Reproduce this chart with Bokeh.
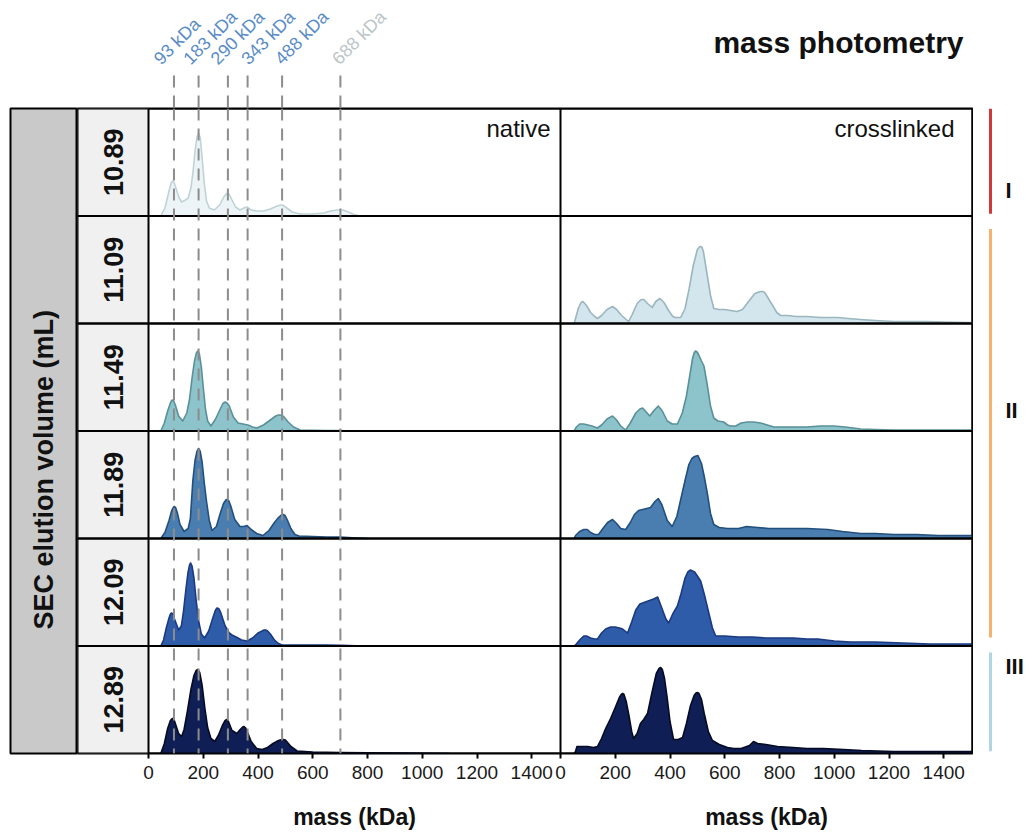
import math
from bokeh.plotting import figure
from bokeh.models import (Range1d, FactorRange, Span, FixedTicker,
                          CustomJSTickFormatter, Spacer, ColumnDataSource)
from bokeh.layouts import row, column
from bokeh.core.properties import value
from bokeh.embed import file_html
from bokeh.resources import INLINE

FONT = "Liberation Sans"

# ---------------- data ----------------
rows = ["10.89", "11.09", "11.49", "11.89", "12.09", "12.89"]
x_ticks = [0, 200, 400, 600, 800, 1000, 1200, 1400]
marker_label = [93, 183, 290, 343, 488, 688]          # kDa written on the labels
marker_line_mass = [93, 183, 290, 362, 488, 701]      # where the dashed guides sit
marker_color = ["#5a8cc6", "#5a8cc6", "#5a8cc6", "#5a8cc6", "#5a8cc6", "#bcc5c8"]

group_names = ["I", "II", "III"]
group_first_row = ["10.89", "11.09", "12.89"]
group_last_row = ["10.89", "12.09", "12.89"]
group_colors = ["#d2383a", "#f3b36c", "#b3d4e2"]

fill_colors = ["#edf4f7", "#d3e5ed", "#8dc3cb", "#4a7eb0", "#2e5ca9", "#0f1f55"]
line_colors = ["#bfd3d6", "#9cb6c0", "#5a9199", "#234f7d", "#1b3a80", "#060b24"]

# native (counts, a.u.)
native_1089_mass = [45, 60, 75, 83, 88, 94, 100, 112, 121, 135, 145, 155, 163, 170, 177, 183, 189, 196, 204, 212, 222, 240, 260, 275, 284, 290, 296, 305, 318, 334, 348, 360, 375, 396, 420, 445, 470, 482, 488, 495, 505, 525, 554, 600, 640, 665, 690, 710, 730, 750, 770]
native_1089_count = [0, 8, 25, 33, 35, 33, 28, 18, 14, 16, 18, 28, 45, 65, 79, 83, 78, 58, 32, 15, 8, 6, 11, 19, 22, 23, 21, 16, 9, 6, 8, 9, 6, 5, 5, 7, 10, 11, 11, 10, 8, 4, 2, 2, 3, 5, 6, 6, 4, 1.5, 0]

native_1149_mass = [45, 58, 70, 80, 85, 88, 92, 98, 110, 125, 140, 150, 160, 168, 175, 180, 186, 193, 200, 208, 216, 228, 245, 262, 272, 280, 287, 295, 310, 327, 345, 363, 380, 396, 420, 445, 465, 475, 481, 488, 495, 510, 530, 554, 600, 650, 700, 740]
native_1149_count = [0, 8, 20, 28, 30.5, 31, 30, 26, 15, 10, 18, 32, 55, 70, 78, 80, 77, 64, 44, 22, 10, 5, 12, 22, 27.5, 29, 28, 25, 14, 8, 7, 6, 4, 3, 6, 11, 15, 16, 16, 15.5, 14, 9, 4, 1, 0.8, 0.5, 0.4, 0]

native_1189_mass = [45, 60, 75, 85, 92, 95, 99, 105, 115, 130, 145, 153, 162, 170, 177, 183, 189, 196, 204, 212, 222, 232, 248, 262, 274, 284, 292, 300, 315, 334, 348, 360, 375, 395, 418, 440, 460, 475, 485, 492, 499, 508, 520, 535, 550, 600, 650, 700, 760, 800]
native_1189_count = [0, 6, 18, 28, 31.5, 32, 31, 26, 14, 7, 10, 20, 58, 78, 87, 90, 87, 76, 55, 37, 18, 8, 12, 25, 35, 39, 38.5, 33, 19, 12, 12, 13, 9, 5, 3, 8, 16, 21, 23.5, 24, 23, 18, 10, 4, 2.5, 2, 1.5, 1.5, 0.5, 0]

native_1209_mass = [45, 55, 65, 75, 80, 84, 89, 95, 110, 120, 128, 136, 144, 150, 154, 159, 166, 174, 183, 193, 205, 220, 235, 244, 250, 256, 263, 280, 295, 305, 320, 340, 360, 380, 400, 415, 422, 428, 435, 445, 460, 475, 488, 550, 650, 700, 760, 800]
native_1209_count = [0, 6, 18, 28, 32, 33, 32, 27, 16, 20, 35, 55, 73, 81, 83, 80, 68, 46, 25, 12, 8, 15, 28, 35.5, 38, 37.5, 34, 20, 13, 11, 9, 6, 5, 8, 13, 15, 16, 16, 15, 12, 6, 2.5, 1, 1, 1, 0.8, 0.3, 0]

native_1289_mass = [45, 58, 70, 80, 85, 88, 93, 98, 110, 121, 130, 142, 155, 166, 174, 180, 187, 196, 206, 216, 228, 242, 255, 270, 280, 286, 292, 305, 323, 335, 344, 349, 355, 362, 375, 395, 415, 435, 455, 475, 487, 493, 500, 508, 520, 543, 600, 700, 800, 900, 1000, 1100]
native_1289_count = [0, 10, 25, 33, 34.5, 35, 34, 30, 20, 17, 24, 42, 64, 78, 83, 84, 81, 68, 45, 26, 15, 12, 18, 28, 33, 34, 32, 23, 20, 24, 26.5, 27, 25.5, 21, 12, 5, 4, 6, 10, 13, 14, 14, 13.5, 11, 7, 2.5, 1.5, 1, 0.6, 0.4, 0.3, 0]

# crosslinked (counts, a.u.)
xl_1109_mass = [50, 55, 65, 75, 82, 95, 110, 125, 135, 150, 170, 190, 205, 220, 240, 249, 262, 280, 295, 304, 318, 335, 348, 363, 378, 395, 410, 420, 439, 455, 470, 485, 500, 507, 512, 517, 522, 535, 548, 560, 580, 600, 621, 645, 665, 687, 710, 730, 738, 746, 755, 775, 790, 804, 830, 860, 900, 950, 1013, 1050, 1097, 1150, 1218, 1280, 1342, 1400, 1488, 1505]
xl_1109_count = [0, 5, 15, 21, 22, 18, 11, 7, 5, 8, 14, 17, 14, 9, 4, 2, 9, 20, 24, 24, 20, 16, 22, 25, 21, 13, 7, 6, 6, 15, 35, 58, 74, 76.5, 77, 76, 72, 50, 28, 15, 14, 14, 13, 12, 14, 22, 30, 32, 32, 31, 27, 18, 11, 8, 8, 7, 7, 6, 6, 5, 4, 3, 2, 2, 2, 1.5, 1, 1]

xl_1149_mass = [50, 58, 70, 85, 100, 115, 135, 150, 170, 190, 205, 220, 238, 255, 275, 290, 300, 313, 326, 340, 357, 372, 390, 408, 427, 445, 460, 472, 482, 488, 493, 499, 505, 515, 524, 535, 548, 560, 575, 596, 610, 621, 640, 660, 683, 705, 731, 755, 780, 810, 852, 900, 950, 998, 1040, 1097, 1150, 1218, 1300, 1400, 1488, 1505]
xl_1149_count = [0, 4, 7, 7, 6, 5, 3, 6, 12, 15, 11, 5, 1, 8, 18, 22, 23, 19, 15, 20, 25, 20, 10, 7, 7, 18, 35, 55, 72, 78, 80, 79, 76, 70, 65, 48, 25, 13, 10, 9, 6, 5, 5, 8, 9, 9, 8, 6, 4, 4, 4, 4, 5, 5, 4, 2, 1.5, 1, 1, 1, 1, 1]

xl_1189_mass = [50, 55, 70, 85, 98, 110, 125, 139, 155, 172, 190, 205, 220, 238, 255, 270, 285, 300, 315, 329, 345, 357, 370, 390, 408, 425, 440, 455, 469, 480, 490, 502, 515, 525, 537, 548, 560, 580, 610, 650, 680, 720, 760, 800, 850, 900, 976, 1030, 1097, 1150, 1218, 1300, 1380, 1462, 1505]
xl_1189_count = [0, 3, 7, 9, 9, 6, 4, 4, 10, 16, 19, 15, 10, 9, 16, 24, 28, 29, 30, 31, 37, 40, 34, 18, 12, 22, 40, 58, 74, 80, 82, 83, 75, 62, 44, 25, 14, 11, 10, 10, 12, 11, 10, 10, 10, 10, 9, 7, 5, 5, 4, 4, 3, 3, 3]

xl_1209_mass = [50, 55, 70, 85, 95, 110, 125, 135, 150, 165, 183, 200, 215, 227, 245, 260, 275, 290, 300, 320, 340, 355, 370, 385, 395, 410, 427, 440, 455, 465, 475, 490, 500, 512, 525, 540, 555, 567, 600, 650, 700, 750, 800, 850, 900, 940, 1000, 1060, 1150, 1250, 1350, 1462, 1505]
xl_1209_count = [0, 1, 6, 10, 10, 8, 7, 7, 13, 17, 19, 19, 18, 17, 13, 24, 36, 42, 43, 45, 47, 49, 38, 27, 23, 32, 40, 52, 68, 74, 76, 74, 70, 65, 52, 35, 18, 10, 10, 9, 9, 8, 8, 8, 7, 7, 5, 4, 4, 3, 2, 2, 2]

xl_1289_mass = [50, 55, 60, 80, 100, 120, 135, 150, 165, 183, 200, 215, 222, 227, 232, 240, 250, 260, 267, 280, 292, 304, 318, 335, 350, 360, 366, 372, 380, 390, 400, 413, 430, 446, 460, 475, 488, 495, 500, 506, 515, 525, 540, 555, 580, 610, 633, 660, 690, 705, 720, 750, 793, 850, 900, 960, 1035, 1100, 1218, 1300, 1400, 1462, 1505]
xl_1289_count = [0, 2, 7, 7, 7, 6, 7, 15, 25, 35, 46, 56, 59, 60, 59, 52, 38, 22, 15, 20, 30, 34, 40, 62, 80, 85, 86, 84, 75, 55, 32, 14, 14, 16, 30, 48, 58, 60.5, 61, 60, 54, 40, 22, 13, 9, 6, 5, 5, 8, 12, 10, 9, 7, 6, 5, 5, 4, 3, 2, 2, 2, 2, 2]

native_curves = {"10.89": (native_1089_mass, native_1089_count),
                 "11.49": (native_1149_mass, native_1149_count),
                 "11.89": (native_1189_mass, native_1189_count),
                 "12.09": (native_1209_mass, native_1209_count),
                 "12.89": (native_1289_mass, native_1289_count)}
xl_curves = {"11.09": (xl_1109_mass, xl_1109_count),
             "11.49": (xl_1149_mass, xl_1149_count),
             "11.89": (xl_1189_mass, xl_1189_count),
             "12.09": (xl_1209_mass, xl_1209_count),
             "12.89": (xl_1289_mass, xl_1289_count)}

# ---------------- layout constants ----------------
XMAX = 1505            # kDa, x-axis upper limit of each panel
ROW_SCALE = 107.5      # counts per facet row height
STRIP_W, PANEL_W = 71, 412
MAIN_W = STRIP_W + 2 * PANEL_W
OUTER_L, OUTER_FRAME = 10, 67
OUTER_W = OUTER_L + OUTER_FRAME
MARK_W = 1030 - OUTER_W - (MAIN_W + 1)
HEAD_H, FOOT_H = 107, 41
FRAME_H, AXIS_H = 645, 40
LABEL_NUDGE = [-10, -5, -7, 4, 3, 2]   # px nudges of the rotated mass labels
strip_kda = XMAX * STRIP_W / PANEL_W

yr = FactorRange(factors=rows[::-1])
xr = Range1d(-strip_kda, 2 * XMAX)
xl_range = Range1d(-XMAX - strip_kda, XMAX)
strip_range = Range1d(0, MAIN_W / STRIP_W)


def bare(p):
    p.grid.visible = False
    p.background_fill_color = "white"
    p.border_fill_color = "white"


# ---------------- main panel figure ----------------
main = figure(width=MAIN_W + 1, height=1 + FRAME_H + AXIS_H, x_range=xr, y_range=yr,
              output_backend="svg", toolbar_location=None,
              min_border_left=0, min_border_right=1, min_border_top=1,
              min_border_bottom=AXIS_H, y_axis_location=None, x_axis_location="below")
main.extra_x_ranges = {"xl": xl_range, "strip": strip_range}
bare(main)
main.outline_line_color = "black"
main.outline_line_width = 2

# label strip
main.hbar(y=rows, left=0, right=1, height=1, x_range_name="strip",
          fill_color="#f0f0f0", line_color=None)
main.text(x=[0.5] * len(rows), y=rows, text=rows, angle=math.pi / 2,
          x_range_name="strip", text_align="center", text_baseline="middle",
          text_font=value(FONT), text_font_style="bold", text_font_size="27px",
          text_color="#111111")


def add_curve(p, cat, mass, count, range_name):
    i = rows.index(cat)
    ys = [(cat, c / ROW_SCALE - 0.5) for c in count]
    base = (cat, -0.5)
    src = ColumnDataSource(dict(x=[mass[0]] + list(mass) + [mass[-1]],
                                y=[base] + ys + [base]))
    p.patch("x", "y", source=src, fill_color=fill_colors[i], line_color=None,
            x_range_name=range_name)
    p.line(x=list(mass), y=ys, line_color=line_colors[i], line_width=1.6,
           line_join="round", x_range_name=range_name)


for cat, (m, c) in native_curves.items():
    add_curve(main, cat, m, c, "default")
for cat, (m, c) in xl_curves.items():
    add_curve(main, cat, m, c, "xl")

# dashed reference masses (native only)
for m in marker_line_mass:
    main.add_layout(Span(location=m, dimension="height", line_color="#8c8c8c",
                         line_width=2, line_dash="12 8"))

# facet borders
main.hbar(y=rows, left=xr.start, right=xr.end, height=1, fill_color=None,
          line_color="black", line_width=2)
for loc in (0, XMAX):
    main.add_layout(Span(location=loc, dimension="height", line_color="black", line_width=2))

# panel titles
main.text(x=[XMAX], y=[(rows[0], 0.5)], text=["native"], x_offset=-10, y_offset=6,
          text_align="right", text_baseline="top", text_font=value(FONT),
          text_font_size="24px", text_color="#111111")
main.text(x=[XMAX], y=[(rows[0], 0.5)], text=["crosslinked"], x_range_name="xl",
          x_offset=-18, y_offset=6, text_align="right", text_baseline="top",
          text_font=value(FONT), text_font_size="24px", text_color="#111111")

# x axis (two facets share one axis line)
ax = main.xaxis[0]
ax.ticker = FixedTicker(ticks=x_ticks + [XMAX + t for t in x_ticks])
ax.formatter = CustomJSTickFormatter(args=dict(off=XMAX),
                                     code="return String(tick >= off ? Math.round(tick - off) : Math.round(tick));")
ax.axis_line_color = None
ax.major_tick_out = 5
ax.major_tick_in = 0
ax.major_tick_line_width = 2
ax.major_tick_line_color = "black"
ax.minor_tick_line_color = None
ax.major_label_text_font = FONT
ax.major_label_text_font_size = "19px"
ax.major_label_text_color = "#1a1a1a"
ax.major_label_standoff = 7

# ---------------- outer strip ----------------
outer = figure(width=OUTER_W, height=1 + FRAME_H + AXIS_H, x_range=Range1d(0, 1),
               y_range=Range1d(0, 1), output_backend="svg", toolbar_location=None,
               min_border_left=OUTER_L, min_border_right=0, min_border_top=1,
               min_border_bottom=AXIS_H, x_axis_location=None, y_axis_location=None)
bare(outer)
outer.background_fill_color = "#c9c9c9"
outer.outline_line_color = "black"
outer.outline_line_width = 2
outer.text(x=[0.5], y=[0.44], text=["SEC elution volume (mL)"], angle=math.pi / 2,
           text_align="center", text_baseline="middle", text_font=value(FONT),
           text_font_style="bold", text_font_size="27px", text_color="#111111")

# ---------------- group markers ----------------
marks = figure(width=MARK_W, height=1 + FRAME_H + AXIS_H, x_range=Range1d(0, MARK_W),
               y_range=yr, output_backend="svg", toolbar_location=None,
               min_border_left=0, min_border_right=0, min_border_top=1,
               min_border_bottom=AXIS_H, x_axis_location=None, y_axis_location=None)
bare(marks)
marks.outline_line_color = None
bar_top_gap = [0.0, 0.12, 0.06]
bar_bot_gap = [0.02, 0.08, 0.02]
label_pos = [("10.89", -0.26), ("11.49", -0.31), ("12.89", 0.31)]
marks.segment(x0=[17] * 3, x1=[17] * 3,
              y0=[(r, 0.5 - g) for r, g in zip(group_first_row, bar_top_gap)],
              y1=[(r, -0.5 + g) for r, g in zip(group_last_row, bar_bot_gap)],
              line_color=group_colors, line_width=3)
marks.text(x=[32] * 3, y=label_pos, text=group_names, text_align="left",
           text_baseline="middle", text_font=value(FONT), text_font_style="bold",
           text_font_size="22px", text_color="#111111")

# ---------------- header ----------------
head = figure(width=MAIN_W + 1, height=HEAD_H, x_range=xr, y_range=Range1d(0, HEAD_H),
              output_backend="svg", toolbar_location=None,
              min_border_left=0, min_border_right=1, min_border_top=0, min_border_bottom=0,
              x_axis_location=None, y_axis_location=None)
head.extra_x_ranges = {"xl": xl_range}
bare(head)
head.outline_line_color = None
head.segment(x0=marker_line_mass, x1=marker_line_mass, y0=[0] * 6, y1=[35] * 6,
             line_color="#8c8c8c", line_width=2, line_dash="12 8")
head.text(x=marker_line_mass, y=[39] * 6, text=[f"{m} kDa" for m in marker_label],
          angle=math.pi / 4, x_offset=LABEL_NUDGE, text_align="left",
          text_baseline="bottom", text_font=value(FONT), text_font_size="18px",
          text_color=marker_color)
head.text(x=[XMAX], y=[65], text=["mass photometry"], x_range_name="xl", x_offset=-9,
          text_align="right", text_baseline="middle", text_font=value(FONT),
          text_font_style="bold", text_font_size="30px", text_color="#111111")

# ---------------- footer (axis titles) ----------------
foot = figure(width=MAIN_W + 1, height=FOOT_H, x_range=xr, y_range=Range1d(0, FOOT_H),
              output_backend="svg", toolbar_location=None,
              min_border_left=0, min_border_right=1, min_border_top=0, min_border_bottom=0,
              x_axis_location=None, y_axis_location=None)
foot.extra_x_ranges = {"xl": xl_range}
bare(foot)
foot.outline_line_color = None
for rn in ("default", "xl"):
    foot.text(x=[XMAX / 2], y=[18], text=["mass (kDa)"], x_range_name=rn,
              text_align="center", text_baseline="middle", text_font=value(FONT),
              text_font_style="bold", text_font_size="23px", text_color="#111111")

layout = column(
    row(Spacer(width=OUTER_W, height=HEAD_H), head, Spacer(width=MARK_W, height=HEAD_H)),
    row(outer, main, marks),
    row(Spacer(width=OUTER_W, height=FOOT_H), foot, Spacer(width=MARK_W, height=FOOT_H)),
)

open("out.html", "w").write(file_html(layout, INLINE))
